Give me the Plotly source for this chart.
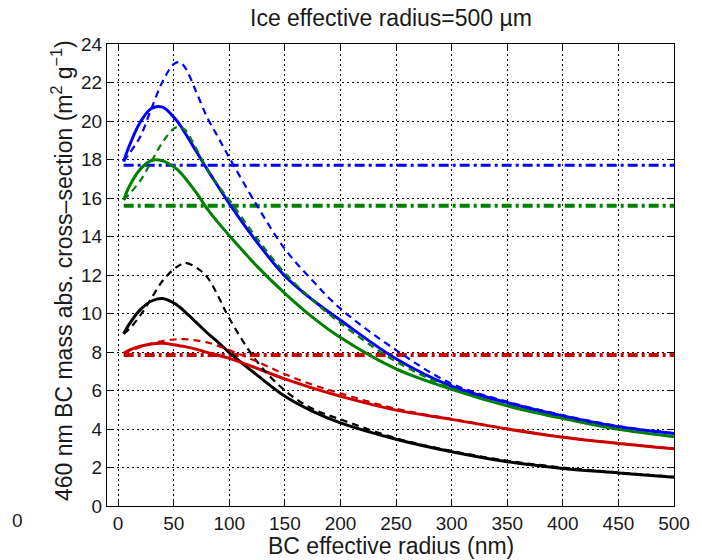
import plotly.graph_objects as go

# BC effective radius (nm)
radius = [5, 10, 20, 30, 40, 50, 55, 60, 70, 80, 90, 100, 125, 150, 175, 200, 250, 300, 350, 400, 450, 500]

blue_solid = [17.9, 18.7, 19.95, 20.65, 20.72, 20.2, 19.85, 19.4, 18.45, 17.5, 16.6, 15.7, 13.7, 11.95, 10.7, 9.65, 7.65, 6.22, 5.37, 4.68, 4.12, 3.77]
blue_dash = [17.9, 18.3, 19.2, 20.65, 22.05, 22.95, 23.05, 22.8, 21.55, 20.2, 19.15, 18.1, 15.6, 13.35, 11.7, 10.25, 8.1, 6.35, 5.42, 4.72, 4.15, 3.78]
green_solid = [15.9, 16.6, 17.5, 17.95, 17.93, 17.62, 17.38, 17.05, 16.3, 15.45, 14.72, 14.05, 12.45, 11.05, 9.8, 8.75, 7.12, 6.06, 5.2, 4.55, 3.98, 3.6]
green_dash = [15.9, 16.2, 16.9, 17.9, 18.9, 19.6, 19.7, 19.55, 18.6, 17.5, 16.65, 15.9, 13.9, 12.1, 10.7, 9.5, 7.5, 6.12, 5.22, 4.57, 4.0, 3.62]
black_solid = [8.95, 9.45, 10.2, 10.65, 10.78, 10.55, 10.35, 10.1, 9.55, 9.0, 8.5, 7.97, 6.8, 5.7, 4.92, 4.32, 3.47, 2.82, 2.3, 1.95, 1.72, 1.5]
black_dash = [8.95, 9.2, 9.9, 10.8, 11.7, 12.3, 12.5, 12.63, 12.4, 11.9, 10.9, 9.75, 7.5, 6.0, 5.05, 4.5, 3.52, 2.86, 2.35, 2.0, 1.74, 1.52]
red_solid = [7.93, 8.1, 8.3, 8.42, 8.45, 8.38, 8.33, 8.28, 8.15, 7.98, 7.83, 7.67, 7.15, 6.6, 6.12, 5.7, 4.98, 4.5, 4.0, 3.57, 3.25, 2.98]
red_dash = [7.93, 8.05, 8.25, 8.45, 8.57, 8.65, 8.67, 8.67, 8.6, 8.5, 8.32, 8.1, 7.5, 6.85, 6.3, 5.85, 5.05, 4.52, 4.02, 3.58, 3.26, 2.99]

# Reference (ice-free) levels
ref_x = [5, 500]
blue_ref = 17.7
green_ref = 15.6
red_ref = 7.85

x_ticks = list(range(0, 501, 50))
y_ticks = list(range(0, 25, 2))

BLUE = "#0000FF"
GREEN = "#008000"
RED = "#CC0000"
BLACK = "#000000"

fig = go.Figure()

def add_line(x, y, color, width, dash):
    fig.add_trace(go.Scatter(x=x, y=y, mode="lines",
                             line=dict(color=color, width=width, dash=dash, shape="spline", smoothing=1.0),
                             showlegend=False, hoverinfo="skip"))

DASHDOT = "10px,4px,3px,4px"
add_line(ref_x, [blue_ref, blue_ref], BLUE, 3, DASHDOT)
add_line(ref_x, [green_ref, green_ref], GREEN, 4, DASHDOT)
add_line(ref_x, [red_ref, red_ref], RED, 4, DASHDOT)

add_line(radius, black_solid, BLACK, 3, "solid")
add_line(radius, red_solid, RED, 3, "solid")
add_line(radius, green_solid, GREEN, 3, "solid")
add_line(radius, blue_solid, BLUE, 3, "solid")

DASH = "7px,5px"
add_line(radius, black_dash, BLACK, 2.2, DASH)
add_line(radius, red_dash, RED, 2.2, DASH)
add_line(radius, green_dash, GREEN, 2.2, DASH)
add_line(radius, blue_dash, BLUE, 2.2, DASH)

FONT = "Liberation Sans, Arial, sans-serif"
TXT = "#1a1a1a"

axis_common = dict(showline=True, linecolor="black", linewidth=1, mirror="allticks",
                   ticks="inside", ticklen=5, tickcolor="black",
                   showgrid=True, gridcolor="black", gridwidth=1, griddash="2px,3px",
                   zeroline=False, tickfont=dict(family=FONT, size=19, color=TXT))

fig.update_xaxes(range=[-10, 500], tickvals=x_ticks, **axis_common)
fig.update_yaxes(range=[0, 24], tickvals=y_ticks, **axis_common)

fig.update_layout(
    width=702, height=560,
    margin=dict(l=107, r=19, t=44, b=54),
    paper_bgcolor="white", plot_bgcolor="white",
    font=dict(family=FONT, color=TXT),
    annotations=[
        dict(text="Ice effective radius=500 \u00b5m", xref="paper", yref="paper",
             x=0.5, y=1, yshift=26, showarrow=False, font=dict(size=23, family=FONT, color=TXT),
             xanchor="center", yanchor="middle"),
        dict(text="BC effective radius (nm)", xref="paper", yref="paper",
             x=0.5, y=0, yshift=-40, showarrow=False, font=dict(size=23, family=FONT, color=TXT),
             xanchor="center", yanchor="middle"),
        dict(text="460 nm BC mass abs. cross\u2013section (m<sup>2</sup> g<sup>\u22121</sup>)",
             xref="paper", yref="paper", x=0, xshift=-45, y=0.5, yshift=4, textangle=-90,
             showarrow=False, font=dict(size=23, family=FONT, color=TXT),
             xanchor="center", yanchor="middle"),
        dict(text="0", xref="paper", yref="paper", x=0, xshift=-90, y=0, yshift=-14,
             showarrow=False, font=dict(size=19, family=FONT, color=TXT),
             xanchor="center", yanchor="middle"),
    ],
)

fig.write_html("out.html")
